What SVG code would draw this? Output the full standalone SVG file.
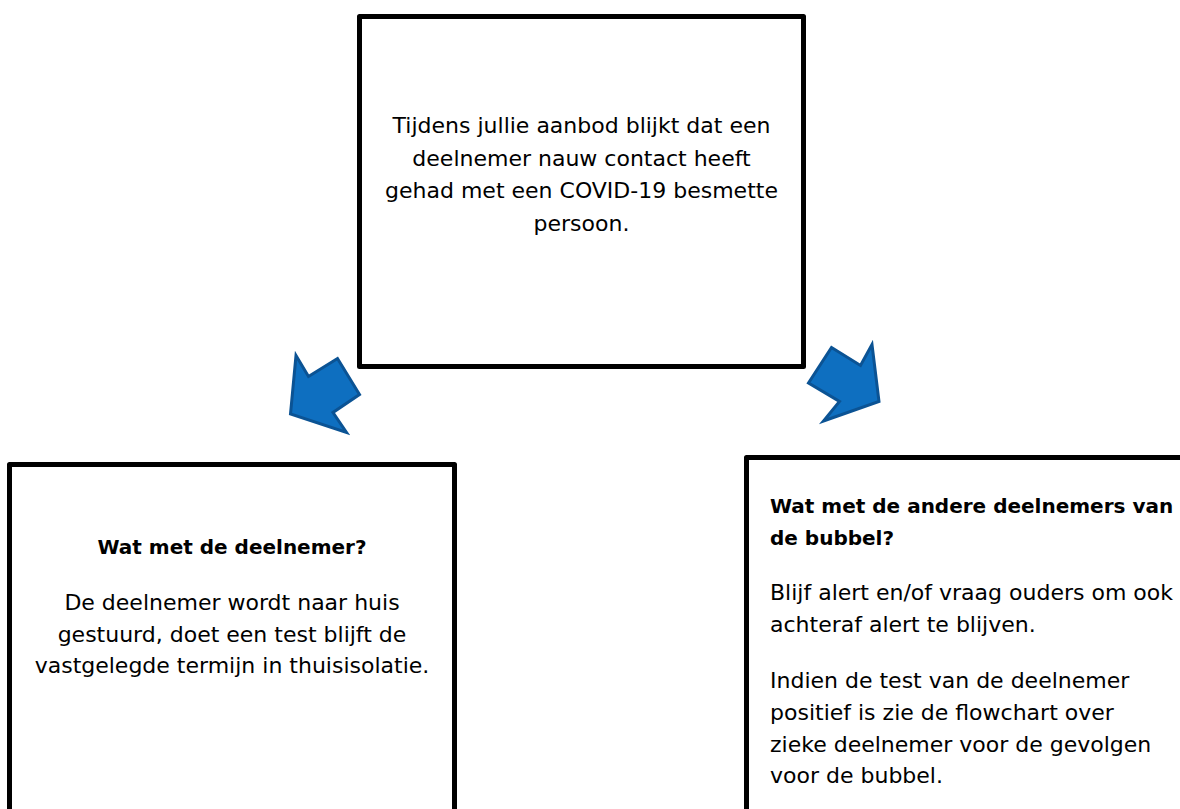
<svg xmlns="http://www.w3.org/2000/svg" width="1180" height="809" viewBox="0 0 1180 809">
<style>
.box{fill:#ffffff;stroke:#000000;stroke-width:5;stroke-linejoin:round}
.t{font-family:"DejaVu Sans",Verdana,sans-serif;font-size:22px;fill:#000000}
.b{font-family:"DejaVu Sans",Verdana,sans-serif;font-size:20px;font-weight:bold;fill:#000000}
.arr{fill:#0e6fc0;stroke:#0b5394;stroke-width:3;stroke-linejoin:miter}
</style>
<rect width="1180" height="809" fill="#ffffff"/>
<g id="node-top">
<rect class="box" x="359.5" y="16.5" width="444" height="350"/>
<text class="t" text-anchor="middle" x="581.5" y="132.5">Tijdens jullie aanbod blijkt dat een</text>
<text class="t" text-anchor="middle" x="581.5" y="165.5">deelnemer nauw contact heeft</text>
<text class="t" text-anchor="middle" x="581.5" y="198">gehad met een COVID-19 besmette</text>
<text class="t" text-anchor="middle" x="581.5" y="230.5">persoon.</text>
</g>
<g id="node-left">
<rect class="box" x="9.5" y="464.5" width="445" height="380"/>
<text class="b" text-anchor="middle" x="232" y="554">Wat met de deelnemer?</text>
<text class="t" text-anchor="middle" x="232" y="610">De deelnemer wordt naar huis</text>
<text class="t" text-anchor="middle" x="232" y="642">gestuurd, doet een test blijft de</text>
<text class="t" text-anchor="middle" x="232" y="673">vastgelegde termijn in thuisisolatie.</text>
</g>
<g id="node-right">
<rect class="box" x="746.5" y="457.5" width="460" height="390"/>
<text class="b" x="770" y="513">Wat met de andere deelnemers van</text>
<text class="b" x="770" y="545">de bubbel?</text>
<text class="t" x="770" y="600">Blijf alert en/of vraag ouders om ook</text>
<text class="t" x="770" y="632">achteraf alert te blijven.</text>
<text class="t" x="770" y="688">Indien de test van de deelnemer</text>
<text class="t" x="770" y="720">positief is zie de flowchart over</text>
<text class="t" x="770" y="752">zieke deelnemer voor de gevolgen</text>
<text class="t" x="770" y="783">voor de bubbel.</text>
</g>
<g id="connectors">
<polygon class="arr" points="296,355.5 308.5,376.5 337.5,358.5 359.5,394.5 333,412.5 346.5,432.5 290.5,414"/>
<polygon class="arr" points="831.5,347.5 860.5,365.5 872,344.5 879,401.5 823.5,421 839.5,401.5 808.5,383"/>
</g>
</svg>
